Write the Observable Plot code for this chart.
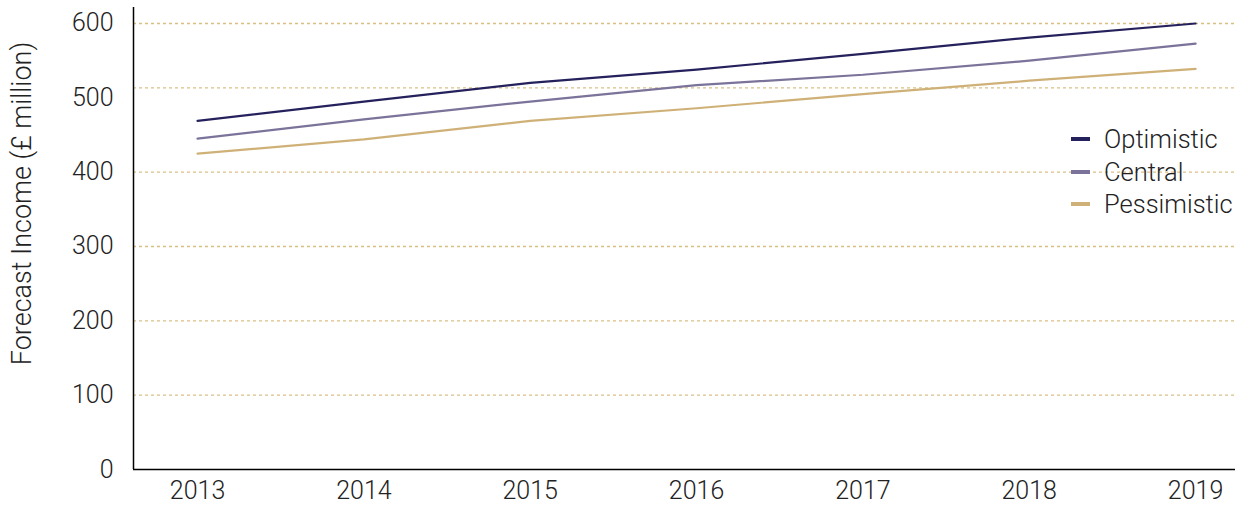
<!DOCTYPE html>
<html>
<head>
<meta charset="utf-8">
<script src="https://cdn.jsdelivr.net/npm/d3@7"></script>
<script src="https://cdn.jsdelivr.net/npm/@observablehq/plot@0.6"></script>
<style>
  html, body { margin: 0; padding: 0; background: #fff; }
  #wrap { position: relative; width: 1242px; height: 508px; font-family: Roboto, "Liberation Sans", sans-serif; font-weight: 300; }
  #legend { position: absolute; left: 1071px; top: 123px; font-size: 25.5px; color: #222; line-height: 32.5px; }
  #legend .item { display: flex; align-items: center; white-space: nowrap; }
  #legend .sw { width: 19px; height: 4px; margin-right: 14px; }
</style>
</head>
<body>
<div id="wrap"><div id="legend"></div></div>
<script>
const years = [2013, 2014, 2015, 2016, 2017, 2018, 2019];
const optimistic  = [469, 495, 520, 538, 559, 581, 600];
const central     = [445, 471, 495, 517, 531, 550, 573];
const pessimistic = [425, 444, 469, 486, 505, 523, 539];
const seriesNames = ["Optimistic", "Central", "Pessimistic"];
const seriesColors = ["#25215c", "#7b7399", "#cfb177"];
const yTicks = [0, 100, 200, 300, 400, 500, 600];
const gridValues = [100, 200, 300, 400, 513.5, 600];
const yLabel = "Forecast Income (£ million)";

const seriesValues = [optimistic, central, pessimistic];
const data = [];
seriesNames.forEach((name, i) => {
  years.forEach((yr, j) => data.push({year: yr, value: seriesValues[i][j], series: name}));
});

const xDomain = [2012.615, 2019.24];
const chart = Plot.plot({
  width: 1242,
  height: 508,
  marginLeft: 133,
  marginRight: 7,
  marginTop: 7,
  marginBottom: 39,
  style: {fontFamily: "Roboto, 'Liberation Sans', sans-serif", fontSize: "25px", fontWeight: 300, color: "#222", background: "transparent"},
  x: {domain: xDomain, ticks: years, tickFormat: d => String(d), tickSize: 0, tickPadding: 12, label: null},
  y: {domain: [0, 621.5], ticks: yTicks, tickSize: 0, tickPadding: 20, label: null},
  color: {domain: seriesNames, range: seriesColors},
  marks: [
    Plot.ruleY(gridValues, {stroke: "#d6b878", strokeWidth: 1.3, strokeDasharray: "3,3", strokeOpacity: 0.9}),
    Plot.line(data, {x: "year", y: "value", z: "series", stroke: "series", strokeWidth: 2.2}),
    Plot.ruleY([0], {stroke: "#000", strokeWidth: 1.5}),
    Plot.ruleX([xDomain[0]], {stroke: "#000", strokeWidth: 1.5}),
    Plot.text([yLabel], {frameAnchor: "left", textAnchor: "middle", rotate: -90, dx: -111, dy: -35, fontSize: 27, fill: "#222"})
  ]
});
document.getElementById("wrap").prepend(chart);

const legend = document.getElementById("legend");
seriesNames.forEach((name, i) => {
  const item = document.createElement("div");
  item.className = "item";
  const sw = document.createElement("span");
  sw.className = "sw";
  sw.style.background = seriesColors[i];
  const t = document.createElement("span");
  t.textContent = name;
  item.appendChild(sw);
  item.appendChild(t);
  legend.appendChild(item);
});
</script>
</body>
</html>
